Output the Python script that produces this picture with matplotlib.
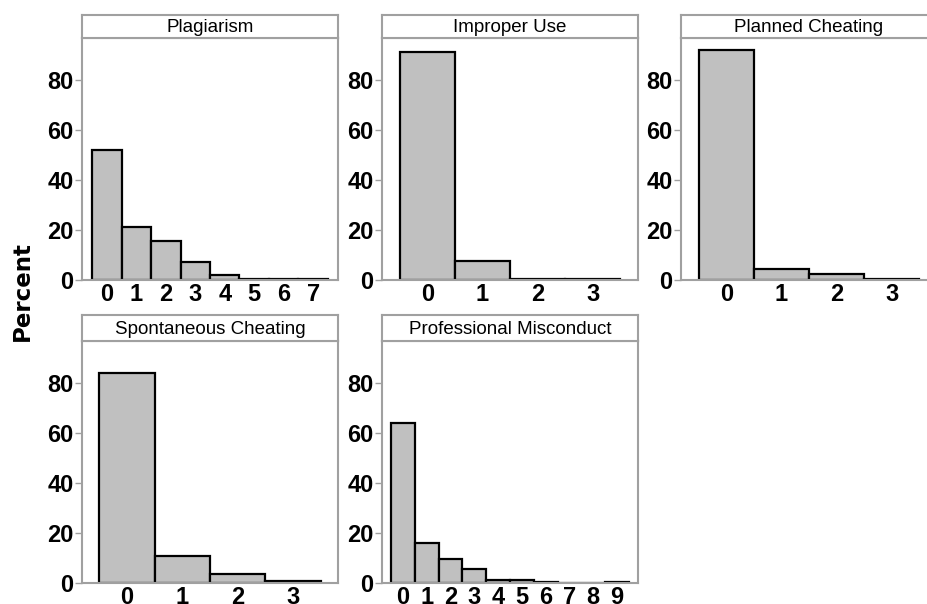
import matplotlib.pyplot as plt
import numpy as np

plt.rcParams['font.family'] = ['Liberation Sans', 'DejaVu Sans']

titles = ['Plagiarism', 'Improper Use', 'Planned Cheating',
          'Spontaneous Cheating', 'Professional Misconduct']
plagiarism = [52, 21, 15.5, 7, 1.8, 0.3, 0.3, 0.3]
improper_use = [91, 7.5, 0.3, 0.3]
planned = [92, 4.5, 2.5, 0.3]
spontaneous = [84, 11, 3.5, 0.8]
misconduct = [64, 16, 9.5, 5.5, 1.2, 1.2, 0.6, 0, 0, 0.6]
series = [plagiarism, improper_use, planned, spontaneous, misconduct]
yticks = [0, 20, 40, 60, 80]

W, H = 928, 604
fig = plt.figure(figsize=(W / 100, H / 100), dpi=100)

lefts = [82, 382, 681]
width = 256
rows = [(15, 38, 280), (315, 341, 583)]  # strip top, plot top, plot bottom (px)
pads = [0.34, 0.32, 0.32, 0.31, 0.38]
edge = '#a0a0a0'

for i, (title, vals) in enumerate(zip(titles, series)):
    r, c = divmod(i, 3)
    st, pt, pb = rows[r]
    x0 = lefts[c]
    ax = fig.add_axes([x0 / W, 1 - pb / H, width / W, (pb - pt) / H])
    x = np.arange(len(vals))
    ax.bar(x, vals, width=1.0, color='#c0c0c0', edgecolor='black', linewidth=1.6)
    ax.set_xlim(-0.5 - pads[i], len(vals) - 0.5 + pads[i])
    ax.set_ylim(0, 96.8)
    ax.set_yticks(yticks)
    ax.set_xticks(x)
    ax.set_xticklabels([str(v) for v in x])
    for lab in ax.get_xticklabels() + ax.get_yticklabels():
        lab.set_fontweight('bold')
        lab.set_fontsize(17)
    ax.tick_params(axis='y', length=5, width=1, color=edge, pad=1)
    ax.tick_params(axis='x', length=0, pad=2)
    for s in ax.spines.values():
        s.set_color(edge)
        s.set_linewidth(1.5)

    sax = fig.add_axes([x0 / W, 1 - pt / H, width / W, (pt - st) / H])
    sax.set_xticks([])
    sax.set_yticks([])
    for s in sax.spines.values():
        s.set_color(edge)
        s.set_linewidth(1.5)
    sax.text(0.5, 0.45, title, ha='center', va='center', fontsize=13.5,
             transform=sax.transAxes)

fig.text(22 / W, 1 - 291 / H, 'Percent', rotation=90, ha='center', va='center',
         fontsize=16.5, fontweight='bold', family='DejaVu Sans')

fig.savefig('out.png', dpi=100)
